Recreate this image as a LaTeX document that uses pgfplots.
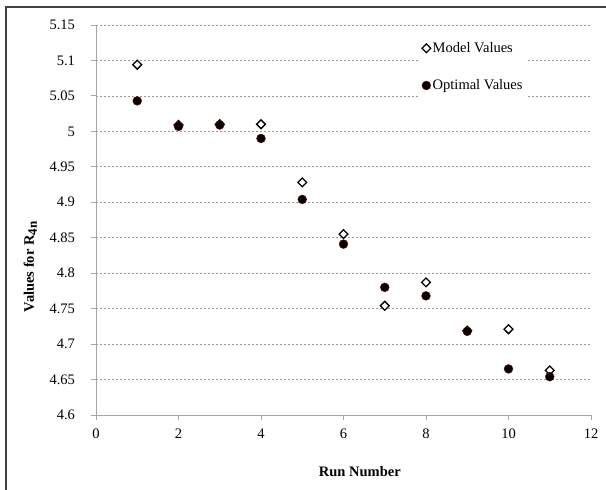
\documentclass[border=0pt]{standalone}
\usepackage{fontspec}
\setmainfont{Liberation Serif}
\usepackage{pgfplots}
\pgfplotsset{compat=1.18}
\begin{document}
\fontsize{14.5}{17}\selectfont
\begin{tikzpicture}
\path[use as bounding box] (-96pt,-75pt) rectangle (510pt,415pt);
\draw[line width=1.8pt, black!75] (-90pt,-75pt) -- (-90pt,408pt) -- (510pt,408pt);
\begin{axis}[
  at={(0pt,0pt)}, anchor=origin,
  scale only axis, width=495pt, height=390pt,
  xmin=0, xmax=12, ymin=4.6, ymax=5.15,
  xtick={0,2,4,6,8,10,12},
  ytick={4.6,4.65,4.7,4.75,4.8,4.85,4.9,4.95,5,5.05,5.1,5.15},
  yticklabels={4.6,4.65,4.7,4.75,4.8,4.85,4.9,4.95,5,5.05,5.1,5.15},
  axis lines*=left,
  axis line style={black!35, line width=0.9pt},
  tick style={black!35, line width=0.9pt},
  tick align=outside, major tick length=5pt,
  ymajorgrids,
  major grid style={black!40, dash pattern=on 2pt off 2pt, line width=0.7pt},
  /pgf/number format/assume math mode=true,
  tick label style={font=\fontsize{14.5}{17}\selectfont, black},
  yticklabel style={xshift=-11pt},
  xticklabel style={yshift=-4pt},
  every axis x label/.style={at={(axis description cs:0.533,-0.144)}, anchor=center},
  every axis y label/.style={at={(axis description cs:-0.133,0.38)}, rotate=90, anchor=center},
  xlabel={\bfseries Run Number},
  ylabel={\bfseries Values for R\raisebox{-3pt}{\fontsize{13}{13}\selectfont\bfseries 4n}},
  legend style={draw=none, fill=white, at={(0.654,0.972)}, anchor=north west,
    font=\fontsize{14.5}{17}\selectfont, row sep=21pt, inner xsep=2pt, inner ysep=4pt},
  legend cell align=left,
  legend image code/.code={\draw[#1] plot coordinates {(0pt,0pt)};},
  clip=false,
]
\addplot[only marks, mark=square*, mark options={rotate=45, fill=white, draw=black, line width=1.3pt}, mark size=3.1pt]
coordinates {(1,5.094) (2,5.009) (3,5.010) (4,5.010) (5,4.928) (6,4.855) (7,4.754) (8,4.787) (9,4.719) (10,4.721) (11,4.663)};
\addlegendentry{Model Values}
\addplot[only marks, mark=*, mark options={fill=black, draw={rgb,255:red,110;green,0;blue,0}, line width=0.5pt}, mark size=4.4pt]
coordinates {(1,5.043) (2,5.007) (3,5.009) (4,4.990) (5,4.904) (6,4.841) (7,4.780) (8,4.768) (9,4.718) (10,4.665) (11,4.654)};
\addlegendentry{Optimal Values}
\end{axis}
\end{tikzpicture}
\end{document}
